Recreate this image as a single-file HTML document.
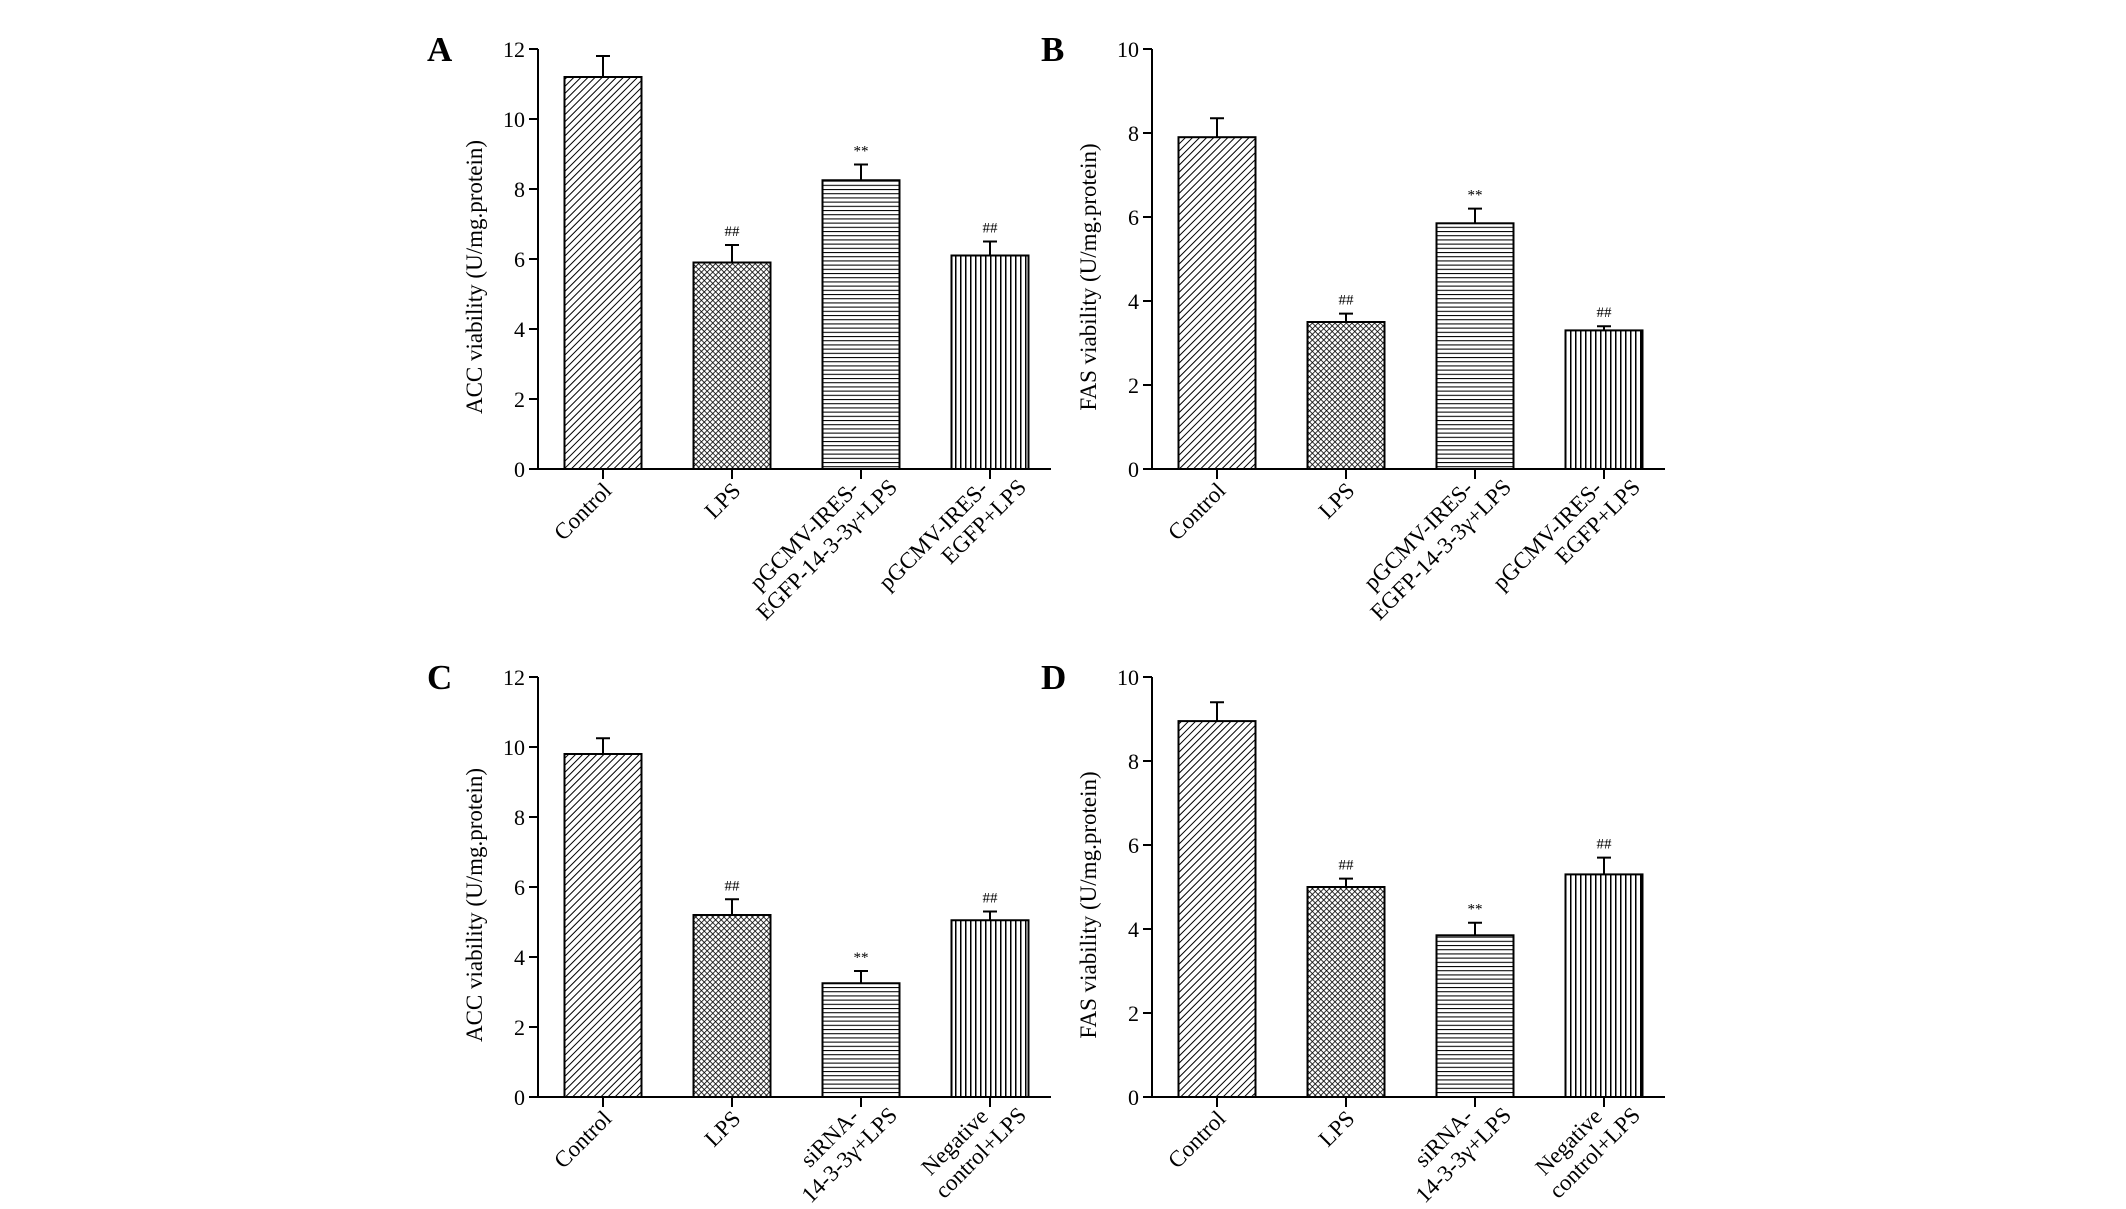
<!DOCTYPE html>
<html><head><meta charset="utf-8"><style>
html,body{margin:0;padding:0;background:#fff}
svg{display:block;font-family:"Liberation Serif","DejaVu Serif",serif}
</style></head><body>
<svg id="fig" width="2126" height="1209" viewBox="0 0 2126 1209" xmlns="http://www.w3.org/2000/svg">
<defs>
<pattern id="pDiag" patternUnits="userSpaceOnUse" width="5" height="5" patternTransform="rotate(45)"><rect width="5" height="5" fill="#fff"/><line x1="0" y1="0" x2="0" y2="5" stroke="#000" stroke-width="2"/></pattern>
<pattern id="pCross" patternUnits="userSpaceOnUse" width="4" height="4" patternTransform="rotate(45)"><rect width="4" height="4" fill="#fff"/><line x1="0" y1="0" x2="0" y2="4" stroke="#000" stroke-width="1.6"/><line x1="0" y1="0" x2="4" y2="0" stroke="#000" stroke-width="1.6"/></pattern>
<pattern id="pHor" patternUnits="userSpaceOnUse" width="4" height="4.2"><rect width="4" height="4.2" fill="#fff"/><line x1="0" y1="0.5" x2="4" y2="0.5" stroke="#000" stroke-width="1.1"/></pattern>
<pattern id="pVer" patternUnits="userSpaceOnUse" width="5" height="4"><rect width="5" height="4" fill="#fff"/><line x1="0.7" y1="0" x2="0.7" y2="4" stroke="#000" stroke-width="1.6"/></pattern>
</defs>
</svg>
<script>
var fills=['url(#pDiag)','url(#pCross)','url(#pHor)','url(#pVer)'];
var labelsAB=[['Control'],['LPS'],['pGCMV-IRES-','EGFP-14-3-3γ+LPS'],['pGCMV-IRES-','EGFP+LPS']];
var labelsCD=[['Control'],['LPS'],['siRNA-','14-3-3γ+LPS'],['Negative','control+LPS']];
var valuesA=[11.2,5.9,8.25,6.1];
var errorsA=[0.6,0.5,0.45,0.4];
var marksA=['','##','**','##'];
var valuesB=[7.9,3.5,5.85,3.3];
var errorsB=[0.45,0.2,0.35,0.1];
var marksB=['','##','**','##'];
var valuesC=[9.8,5.2,3.25,5.05];
var errorsC=[0.45,0.45,0.35,0.25];
var marksC=['','##','**','##'];
var valuesD=[8.95,5.0,3.85,5.3];
var errorsD=[0.45,0.2,0.3,0.4];
var marksD=['','##','**','##'];
var ticksA=[0,2,4,6,8,10,12];
var ticksB=[0,2,4,6,8,10];

var NS='http://www.w3.org/2000/svg';
var svg=document.getElementById('fig');
function mk(tag,attrs,parent){var e=document.createElementNS(NS,tag);for(var k in attrs)e.setAttribute(k,attrs[k]);(parent||svg).appendChild(e);return e;}

function panel(id,letter,ox,oy,yMax,ticks,values,errors,marks,labels,ytitle){
  var g=mk('g',{});
  
  
  var axX=ox, y0=oy, yTop=oy-420, xEnd=ox+513;
  function ys(v){return y0-(v/yMax)*(y0-yTop);}
  function xc(i){return ox+65+i*129;}
  var L=mk('text',{x:ox-111,y:yTop+12,'font-size':35,'font-weight':'bold'},g);L.textContent=letter;
  
  
  var yax=mk('line',{x1:axX,y1:yTop,x2:axX,y2:y0,stroke:'#000','stroke-width':2},g);
  
  
  var xax=mk('line',{x1:axX-1,y1:y0,x2:xEnd,y2:y0,stroke:'#000','stroke-width':2},g);
  
  
  ticks.forEach(function(t){
    var y=ys(t);
    mk('line',{x1:axX-9,y1:y,x2:axX,y2:y,stroke:'#000','stroke-width':2},g);
    var tl=mk('text',{x:axX-13,y:y+8,'font-size':22,'text-anchor':'end'},g);tl.textContent=t;
    
    
  });
  var yt=mk('text',{x:0,y:0,'font-size':23,'text-anchor':'middle',transform:'translate('+(ox-56)+','+((y0+yTop)/2+18)+') rotate(-90)'},g);
  yt.textContent=ytitle;
  
  
  values.forEach(function(v,i){
    var cx=xc(i),w=77,top=ys(v);
    var r=mk('rect',{x:cx-w/2,y:top,width:w,height:y0-top,fill:fills[i],stroke:'#000','stroke-width':2},g);
    
    
    var et=ys(v+errors[i]);
    var eb=mk('path',{d:'M'+cx+' '+top+'V'+et+'M'+(cx-7)+' '+et+'H'+(cx+7),stroke:'#000','stroke-width':2,fill:'none'},g);
    
    
    if(marks[i]){var m=mk('text',{x:cx,y:et-9,'font-size':15,'text-anchor':'middle'},g);m.textContent=marks[i];
      
      }
    mk('line',{x1:cx,y1:y0,x2:cx,y2:y0+10,stroke:'#000','stroke-width':2},g);
    var lg=mk('g',{transform:'translate('+(cx+5)+','+(y0+18)+') rotate(-45)'},g);
    var lines=labels[i];
    lines.forEach(function(s,j){
      var dy=lines.length===1?7:(j===0?-2:24);
      var dx=lines.length===1?0:(j===0?-6:22);
      var t=mk('text',{x:dx,y:dy,'font-size':23,'text-anchor':'end'},lg);t.textContent=s;
      
      
    });
  });
}
panel('a','A',538,469,12,ticksA,valuesA,errorsA,marksA,labelsAB,'ACC viability (U/mg.protein)');
panel('b','B',1152,469,10,ticksB,valuesB,errorsB,marksB,labelsAB,'FAS viability (U/mg.protein)');
panel('c','C',538,1097,12,ticksA,valuesC,errorsC,marksC,labelsCD,'ACC viability (U/mg.protein)');
panel('d','D',1152,1097,10,ticksB,valuesD,errorsD,marksD,labelsCD,'FAS viability (U/mg.protein)');
</script>
</body></html>
